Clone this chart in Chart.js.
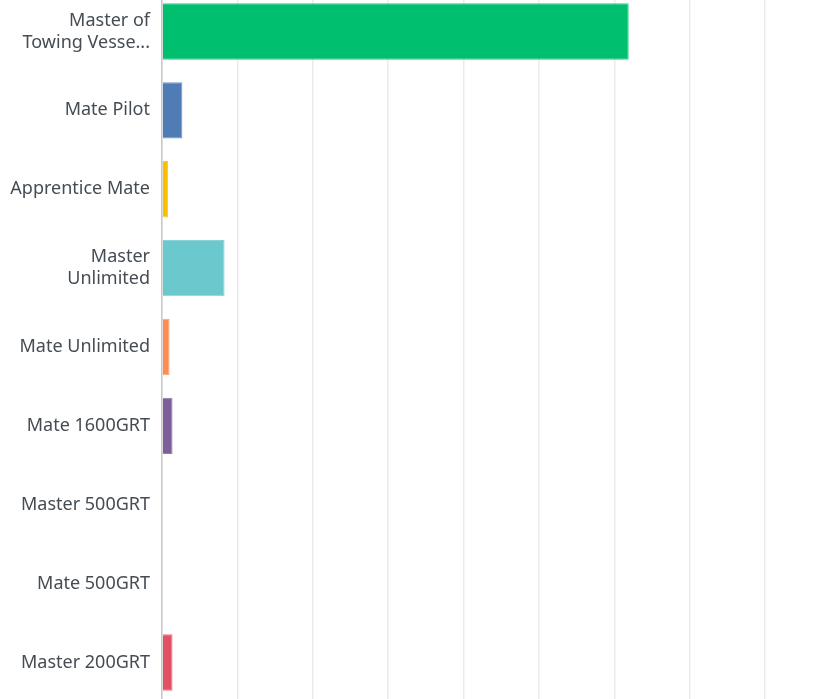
<!DOCTYPE html>
<html><head><meta charset="utf-8">
<script src="https://cdn.jsdelivr.net/npm/chart.js@4.4.1/dist/chart.umd.min.js"></script>
<style>
html,body{margin:0;padding:0;overflow:hidden;background:#fff;width:836px;height:699px;}
#wrap{position:absolute;left:0;top:-8px;width:920px;height:710px;}
</style></head>
<body>
<div id="wrap"><canvas id="c"></canvas></div>
<script>
const categories = [["Master of","Towing Vesse..."],"Mate Pilot","Apprentice Mate",["Master","Unlimited"],"Mate Unlimited","Mate 1600GRT","Master 500GRT","Mate 500GRT","Master 200GRT"];
const values = [61.9, 2.7, 0.8, 8.3, 1.0, 1.4, 0, 0, 1.4];
const colors = ["#00BF6F","#507CB6","#F9BE00","#6BC8CD","#FF8B4F","#7D5E98","#8F8F8F","#AAAAAA","#E05263"];
const xTicks = [0,10,20,30,40,50,60,70,80,90,100];

new Chart(document.getElementById('c'), {
  type: 'bar',
  data: {
    labels: categories,
    datasets: [{
      data: values,
      backgroundColor: colors,
      borderColor: colors.map(c => c + "CC"),
      borderWidth: 1,
      barPercentage: 0.715,
      categoryPercentage: 1.0
    }]
  },
  options: {
    indexAxis: 'y',
    responsive: true,
    maintainAspectRatio: false,
    animation: false,
    layout: { padding: { top: 0, right: 4, bottom: 0, left: 0 } },
    plugins: { legend: { display: false }, tooltip: { enabled: false } },
    scales: {
      x: {
        min: xTicks[0], max: xTicks[xTicks.length-1],
        afterBuildTicks: s => { s.ticks = xTicks.map(v => ({ value: v })); },
        ticks: { display: false },
        grid: { color: '#ebebeb', lineWidth: 1.5, drawTicks: false },
        border: { display: false },
        afterFit: s => { s.height = 0; s.paddingLeft = 0; s.paddingRight = 0; s.paddingTop = 0; s.paddingBottom = 0; }
      },
      y: {
        grid: { display: false, drawTicks: false },
        border: { display: true, color: '#c8c8c8', width: 1.5 },
        ticks: {
          color: '#454c53',
          padding: 12,
          font: { family: '"Noto Sans", sans-serif', size: 18, lineHeight: 1.22 },
          autoSkip: false
        },
        afterFit: s => { s.width = 162; s.paddingTop = 0; s.paddingBottom = 0; }
      }
    }
  }
});
</script>
</body></html>
